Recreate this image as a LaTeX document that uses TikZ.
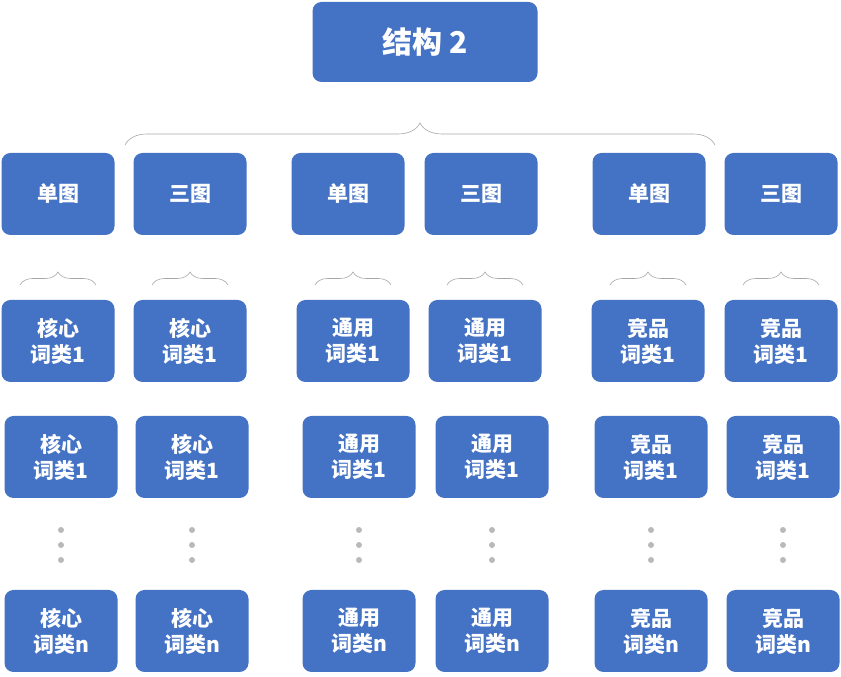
\documentclass[tikz,border=0pt]{standalone}
\usepackage{fontspec}
\setmainfont{Noto Sans CJK SC}
\usetikzlibrary{decorations.pathreplacing}
\definecolor{boxblue}{HTML}{4472C4}
\begin{document}
\begin{tikzpicture}[x=1pt,y=1pt,
  box/.style={fill=boxblue,rounded corners=9pt,minimum width=113pt,minimum height=82pt,text=white,font=\fontsize{21}{26}\selectfont\bfseries,align=center,inner sep=2pt},
  bigbrace/.style={draw=gray!70,decorate,decoration={brace,amplitude=22pt},line width=0.6pt},
  smallbrace/.style={draw=gray!70,decorate,decoration={brace,amplitude=13pt},line width=0.6pt},
  dot/.style={circle,fill=gray!55,inner sep=0pt,minimum size=6pt}]
\useasboundingbox (0,0) rectangle (841,677);
\node[box,minimum width=225pt,minimum height=80pt,font=\fontsize{30}{36}\selectfont\bfseries] (top) at (425,635) {结构 2};
\coordinate (bl) at (125,532); \coordinate (br) at (715,532);
\draw[bigbrace] (bl) -- (br);
\foreach \n/\x/\t in {a/58/单图,b/190/三图,c/348/单图,d/481/三图,e/649/单图,f/781/三图}{
  \node[box] (r1\n) at (\x,483) {\t};
}
\foreach \n/\x/\t in {a/58/核心,b/190/核心,c/353/通用,d/485/通用,e/648/竞品,f/781/竞品}{
  \node[box] (r2\n) at (\x,336) {\t\\词类1};
  \coordinate (sl\n) at (\x-38,392);
  \coordinate (sr\n) at (\x+38,392);
  \draw[smallbrace] (sl\n) -- (sr\n);
}
\foreach \n/\x/\t in {a/61/核心,b/192/核心,c/359/通用,d/492/通用,e/651/竞品,f/783/竞品}{
  \node[box] (r3\n) at (\x,220) {\t\\词类1};
  \node[box] (r4\n) at (\x,46) {\t\\词类n};
  \node[dot] (d1\n) at (\x,147) {};
  \node[dot] (d2\n) at (\x,132) {};
  \node[dot] (d3\n) at (\x,117) {};
}
\end{tikzpicture}
\end{document}
